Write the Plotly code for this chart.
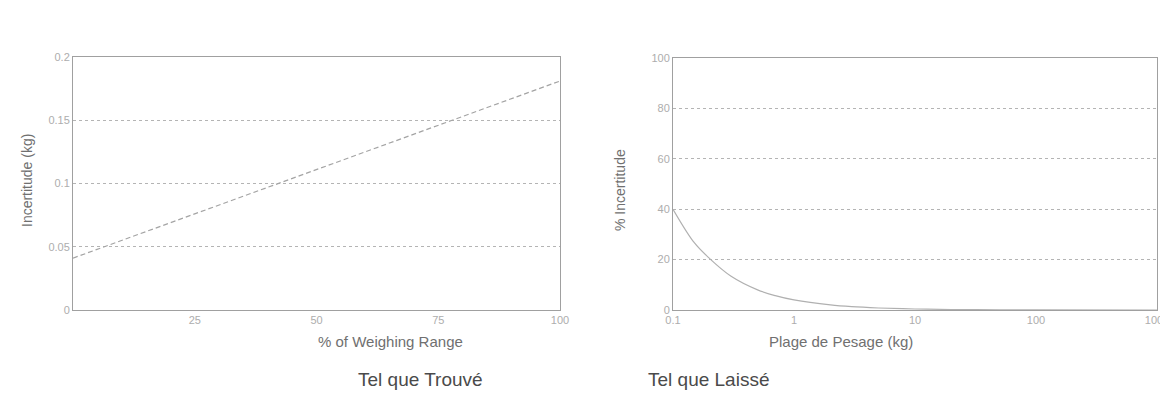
import plotly.graph_objects as go

# Left chart: uncertainty (kg) vs % of weighing range
range_pct = [0, 100]
uncert_kg = [0.041, 0.181]

# Right chart: % uncertainty vs weighing range (kg)
plage_kg = [0.1, 0.15, 0.2, 0.3, 0.5, 0.7, 1, 2, 3, 5, 10, 20, 50, 100, 1000]
pct_uncert = [40, 26.7, 20.5, 13.5, 8, 5.7, 4, 2, 1.3, 0.8, 0.4, 0.2, 0.08, 0.04, 0.004]

left_xticks = [25, 50, 75, 100]
left_yticks = [0, 0.05, 0.1, 0.15, 0.2]
left_yticklabels = ["0", "0.05", "0.1", "0.15", "0.2"]
right_xticks = [0.1, 1, 10, 100, 1000]
right_xticklabels = ["0.1", "1", "10", "100", "1000"]
right_yticks = [0, 20, 40, 60, 80, 100]

W, H = 1168, 407
OFF = 8  # page body margin in the browser
FONT = "Liberation Sans, Arial, sans-serif"
TICK = "#adadad"
GRID = "#b4b4b4"
LINE = "#a0a0a0"
TITLE = "#707070"


def px(x):
    return (x - OFF) / W


def py(y):
    return 1 - (y - OFF) / H


fig = go.Figure()
fig.add_trace(go.Scatter(x=range_pct, y=uncert_kg, mode="lines",
                         line=dict(color="#a4a4a4", width=1.2, dash="5px,3px"),
                         xaxis="x", yaxis="y", showlegend=False))
fig.add_trace(go.Scatter(x=plage_kg, y=pct_uncert, mode="lines",
                         line=dict(color="#b0b0b0", width=1.2, shape="spline"),
                         xaxis="x2", yaxis="y2", showlegend=False))

common_axis = dict(showline=True, linecolor=LINE, linewidth=1, mirror=True,
                   ticks="", zeroline=False, automargin=False,
                   tickfont=dict(family=FONT, size=11, color=TICK))

fig.update_layout(
    width=W, height=H,
    margin=dict(l=0, r=0, t=0, b=0, pad=0),
    paper_bgcolor="white", plot_bgcolor="white",
    font=dict(family=FONT),
    xaxis=dict(domain=[px(73), px(560)], range=[0, 100], tickvals=left_xticks,
               showgrid=False, anchor="y", **common_axis),
    yaxis=dict(domain=[py(310), py(57)], range=[0, 0.2], tickvals=left_yticks,
               ticktext=left_yticklabels, showgrid=True, gridcolor=GRID,
               griddash="dot", gridwidth=1, anchor="x", **common_axis),
    xaxis2=dict(domain=[px(673), px(1157)], type="log", range=[-1, 3],
                tickvals=right_xticks, ticktext=right_xticklabels,
                showgrid=False, anchor="y2", **common_axis),
    yaxis2=dict(domain=[py(310), py(58)], range=[0, 100], tickvals=right_yticks,
                showgrid=True, gridcolor=GRID, griddash="dot", gridwidth=1,
                anchor="x2", **common_axis),
    annotations=[
        dict(text="% of Weighing Range", x=px(316), y=py(352), xref="paper", yref="paper",
             showarrow=False, font=dict(size=15, color=TITLE, family=FONT)),
        dict(text="Plage de Pesage (kg)", x=px(915), y=py(352), xref="paper", yref="paper",
             showarrow=False, font=dict(size=15, color=TITLE, family=FONT)),
        dict(text="Incertitude (kg)", x=px(17), y=py(181), xref="paper", yref="paper",
             textangle=-90, showarrow=False, font=dict(size=14, color=TITLE, family=FONT)),
        dict(text="% Incertitude", x=px(620), y=py(190), xref="paper", yref="paper",
             textangle=-90, showarrow=False, font=dict(size=14, color=TITLE, family=FONT)),
        dict(text="Tel que Trouvé", x=px(420), y=py(392), xref="paper", yref="paper",
             showarrow=False, font=dict(size=19, color="#4a4a4a", family=FONT)),
        dict(text="Tel que Laissé", x=px(708), y=py(392), xref="paper", yref="paper",
             showarrow=False, font=dict(size=19, color="#4a4a4a", family=FONT)),
    ],
)

fig.write_html("out.html")
